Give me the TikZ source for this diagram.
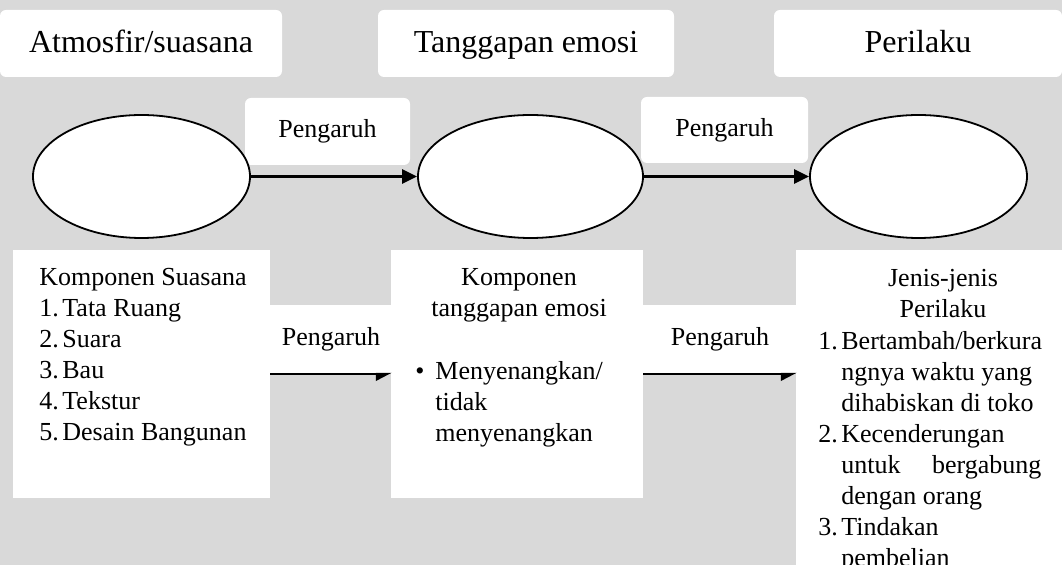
\documentclass[tikz,border=0pt]{standalone}
\usepackage{fontspec}
\setmainfont{Liberation Serif}
\usepackage{tikz}
\usetikzlibrary{arrows.meta, positioning, shapes.geometric}
\definecolor{paper}{RGB}{217,217,217}

\newcommand{\txt}{\fontsize{13}{15.5}\selectfont}
\newcommand{\hd}{\fontsize{16}{19}\selectfont}
\newcommand{\num}[1]{\makebox[11.5pt][l]{#1}}

\begin{document}
\begin{tikzpicture}[x=0.5pt, y=-0.5pt, font=\txt,
  card/.style={fill=white, inner sep=0pt, rounded corners=3pt},
  headcard/.style={card, font=\hd, text height=11pt, text depth=1.5pt, minimum height=33.5pt},
  sheet/.style={fill=white, inner sep=0pt, anchor=north west},
  words/.style={inner sep=0pt, anchor=north west, align=left},
  oval/.style={ellipse, draw, fill=white, line width=0.9pt, minimum width=108.5pt, minimum height=61.5pt},
  flow/.style={-{Triangle[length=7.5pt, width=7pt]}, line width=1.2pt},
  halfflow/.style={-{Triangle[harpoon, swap, length=7pt, width=7pt]}, line width=1pt}]
  \fill[paper] (0,0) rectangle (1062,565);
  \useasboundingbox (0,0) rectangle (1062,565);
  % headings
  \node[headcard, minimum width=141pt] (atmos) at (141,43.5) {Atmosfir/suasana};
  \node[headcard, minimum width=148pt] (emosi) at (526,43.5) {Tanggapan emosi};
  \node[headcard, minimum width=144pt] (laku) at (918,43.5) {Perilaku};
  % upper labels
  \node[card, minimum width=82.5pt, minimum height=33.5pt] (pu1) at (327.5,131.5) {Pengaruh};
  \node[card, minimum width=83.5pt, minimum height=33pt] (pu2) at (724.5,130) {Pengaruh};
  % ellipses and arrows
  \node[oval] (e1) at (141.5,176.5) {};
  \node[oval, minimum width=112.5pt] (e2) at (530.5,176.5) {};
  \node[oval] (e3) at (918.5,176.5) {};
  \draw[flow] (e1) -- (e2);
  \draw[flow] (e2) -- (e3);
  % lower boxes
  \node[sheet, minimum width=128.5pt, minimum height=124pt] (k1) at (13,250) {};
  \node[sheet, minimum width=126pt, minimum height=124pt] (k2) at (391,250) {};
  \node[sheet, minimum width=133pt, minimum height=157.5pt] (k3) at (796,250) {};
  \node[sheet, minimum width=60.5pt, minimum height=34pt] (pl1) at (270,305) {Pengaruh};
  \node[sheet, minimum width=76.5pt, minimum height=34pt] (pl2) at (643,305) {Pengaruh};
  \draw[halfflow] (pl1.south west) -- (pl1.south east);
  \draw[halfflow] (pl2.south west) -- (pl2.south east);
  % box texts
  \node[words] (k1txt) at (39,268) {Komponen Suasana\\
    \num{1.}Tata Ruang\\ \num{2.}Suara\\ \num{3.}Bau\\
    \num{4.}Tekstur\\ \num{5.}Desain Bangunan};
  \node[words, anchor=north, align=center] (k2head) at (519,268) {Komponen\\tanggapan emosi};
  \node[words] (k2txt) at (415,361) {\makebox[10pt][l]{\textbullet}Menyenangkan/\\
    \hspace*{10pt}tidak\\ \hspace*{10pt}menyenangkan};
  \node[words, anchor=north, align=center] (k3head) at (943,269) {Jenis-jenis\\Perilaku};
  \node[words] (k3txt) at (818,331) {\num{1.}Bertambah/berkura\\
    \hspace*{11.5pt}ngnya waktu yang\\ \hspace*{11.5pt}dihabiskan di toko\\
    \num{2.}Kecenderungan\\ \hspace*{11.5pt}\makebox[100pt][s]{untuk bergabung}\\
    \hspace*{11.5pt}dengan orang\\ \num{3.}Tindakan\\ \hspace*{11.5pt}pembelian};
\end{tikzpicture}
\end{document}
